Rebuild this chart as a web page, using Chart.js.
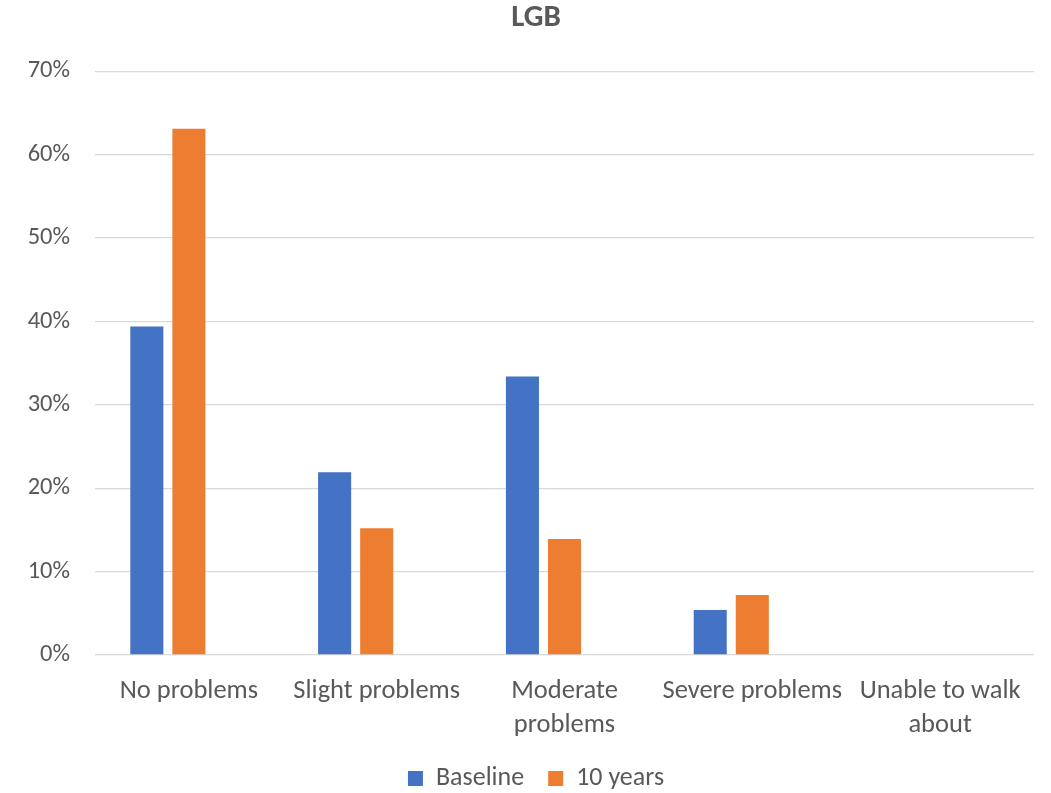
<!DOCTYPE html>
<html>
<head>
<meta charset="utf-8">
<script src="https://cdn.jsdelivr.net/npm/chart.js@4.4.1/dist/chart.umd.min.js"></script>
<style>
  html, body { margin: 0; padding: 0; background: #ffffff; }
  #wrap { width: 1051px; height: 793px; }
</style>
</head>
<body>
<div id="wrap"><canvas id="c" width="1051" height="793"></canvas></div>
<script>
const titleText = "LGB";
const categories = [["No problems"], ["Slight problems"], ["Moderate", "problems"], ["Severe problems"], ["Unable to walk", "about"]];
const baseline = [39.4, 21.9, 33.4, 5.4, 0];
const tenYears = [63.1, 15.2, 13.9, 7.2, 0];
const emptySeries = [null, null, null, null, null];
const yTicks = [0, 10, 20, 30, 40, 50, 60, 70];

const FONT = "Carlito, 'Open Sans', sans-serif";
const TEXT = "#595959";

new Chart(document.getElementById("c"), {
  type: "bar",
  data: {
    labels: categories,
    datasets: [
      { label: "Baseline", data: baseline, backgroundColor: "#4472C4", categoryPercentage: 0.672, barPercentage: 0.786 },
      { label: "10 years", data: tenYears, backgroundColor: "#ED7D31", categoryPercentage: 0.672, barPercentage: 0.786 },
      { label: "", data: emptySeries, backgroundColor: "rgba(0,0,0,0)", categoryPercentage: 0.672, barPercentage: 0.786 }
    ]
  },
  options: {
    responsive: false,
    animation: false,
    devicePixelRatio: 1,
    layout: { padding: { left: 38, right: 17, top: 0, bottom: -8.5 } },
    plugins: {
      title: {
        display: true,
        text: titleText,
        color: TEXT,
        font: { family: FONT, size: 31, weight: "bold", lineHeight: 1.2 },
        padding: { top: 0, bottom: 34 }
      },
      legend: {
        position: "bottom",
        labels: {
          filter: (item) => item.datasetIndex < 2,
          color: TEXT,
          font: { family: FONT, size: 26 },
          boxWidth: 15,
          boxHeight: 15,
          padding: 24
        }
      },
      tooltip: { enabled: false }
    },
    scales: {
      x: {
        grid: { display: false, drawTicks: false },
        border: { display: false },
        ticks: { color: TEXT, font: { family: FONT, size: 26.5, lineHeight: 1.26 }, padding: 20, maxRotation: 0, autoSkip: false },
        afterFit: (s) => { s.height = 86.5; }
      },
      y: {
        min: 0,
        max: 70,
        afterBuildTicks: (s) => { s.ticks = yTicks.map(v => ({ value: v })); },
        grid: { color: "#D9D9D9", lineWidth: 1.3, drawTicks: false },
        border: { display: false },
        ticks: { color: TEXT, font: { family: FONT, size: 24.5 }, padding: 25, callback: (v) => v + "%" },
        afterFit: (s) => { s.width = 57; s._computeLabelArea = () => undefined; }
      }
    }
  }
});
</script>
</body>
</html>
